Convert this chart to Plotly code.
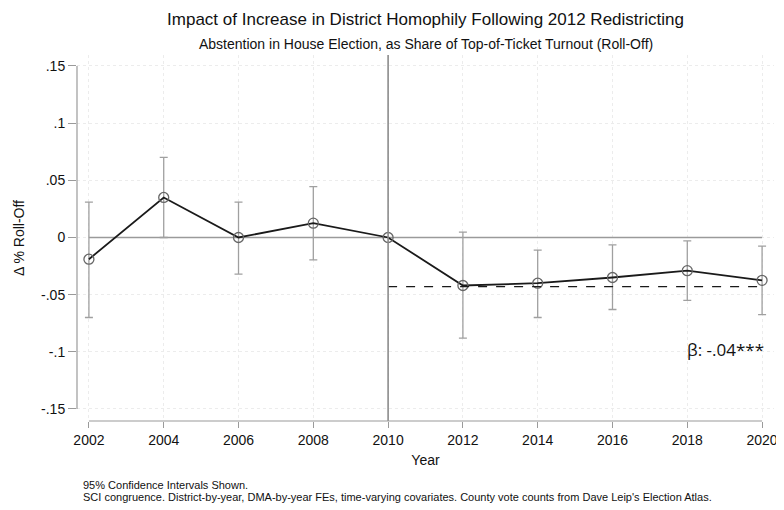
import plotly.graph_objects as go

# DATA
years = [2002, 2004, 2006, 2008, 2010, 2012, 2014, 2016, 2018, 2020]
coef = [-0.019, 0.035, 0.0, 0.0125, 0.0, -0.042, -0.040, -0.035, -0.029, -0.0375]
ci_low = [-0.070, 0.0, -0.032, -0.0195, None, -0.088, -0.070, -0.063, -0.055, -0.0675]
ci_high = [0.031, 0.070, 0.031, 0.0445, None, 0.0047, -0.011, -0.0064, -0.003, -0.0076]
post_beta = -0.043
y_ticks = [0.15, 0.1, 0.05, 0, -0.05, -0.1, -0.15]
y_tick_text = [".15", ".1", ".05", "0", "-.05", "-.1", "-.15"]

FONT = "Liberation Sans"
GRID = "#ececec"
AXIS = "#9a9a9a"

# page body has an 8px margin, so the figure is drawn 8px smaller
W, H = 776, 502
M_L, M_R, M_T, M_B = 69, 6, 47, 89
PLOT_W = W - M_L - M_R
PLOT_H = H - M_T - M_B
PX_PER_YEAR = 37.65

# ERROR BARS (skip the reference year)
eb_x, eb_y, eb_up, eb_dn = [], [], [], []
for yr, c, lo, hi in zip(years, coef, ci_low, ci_high):
    if lo is None:
        continue
    eb_x.append(yr)
    eb_y.append(c)
    eb_up.append(hi - c)
    eb_dn.append(c - lo)

fig = go.Figure()

fig.add_trace(go.Scatter(
    x=eb_x, y=eb_y, mode="markers",
    marker=dict(size=1, color="rgba(0,0,0,0)"),
    error_y=dict(type="data", symmetric=False, array=eb_up, arrayminus=eb_dn,
                 color="#a0a0a0", thickness=1.3, width=4),
    showlegend=False, hoverinfo="skip"
))

fig.add_trace(go.Scatter(
    x=years, y=coef, mode="lines+markers",
    line=dict(color="#1a1a1a", width=1.8),
    marker=dict(symbol="circle-open", size=10, color="#666666", line=dict(width=1.3)),
    showlegend=False
))

# post-period average (dashed)
fig.add_trace(go.Scatter(
    x=[2010, 2020], y=[post_beta, post_beta], mode="lines",
    line=dict(color="#1a1a1a", width=1.3, dash="dash"),
    showlegend=False, hoverinfo="skip"
))

shapes = [
    # zero line
    dict(type="line", xref="x", yref="y", x0=2002, x1=2020, y0=0, y1=0,
         line=dict(color=AXIS, width=1.5), layer="between"),
    # 2010 vertical line
    dict(type="line", xref="x", yref="paper", x0=2010, x1=2010, y0=0, y1=1,
         line=dict(color="#8c8c8c", width=1.6), layer="above"),
    # y axis line
    dict(type="line", xref="paper", yref="y", x0=0, x1=0, y0=-0.15, y1=0.15,
         line=dict(color=AXIS, width=1.2)),
    # x axis line
    dict(type="line", xref="x", yref="paper", x0=2002, x1=2020, y0=0, y1=0,
         line=dict(color=AXIS, width=1.2)),
]

note_x = (73 - M_L) / PLOT_W

fig.update_layout(
    width=W, height=H,
    margin=dict(l=M_L, r=M_R, t=M_T, b=M_B),
    plot_bgcolor="white", paper_bgcolor="white",
    font=dict(family=FONT, color="#111111", size=14),
    shapes=shapes,
    title=dict(text="Impact of Increase in District Homophily Following 2012 Redistricting",
               x=0.5, xref="paper", xanchor="center",
               y=1 - 11 / H, yref="container", yanchor="middle",
               font=dict(size=17, family=FONT, color="#111111")),
    annotations=[
        dict(text="Abstention in House Election, as Share of Top-of-Ticket Turnout (Roll-Off)",
             xref="paper", yref="paper", x=0.5, y=1 + 11 / PLOT_H, xanchor="center",
             yanchor="middle", showarrow=False, font=dict(size=14)),
        dict(text="β: -.04***", xref="x", yref="y", x=2020.1, y=-0.098,
             xanchor="right", yanchor="middle", showarrow=False,
             font=dict(size=17, family="Open Sans")),
        dict(text="95% Confidence Intervals Shown.",
             xref="paper", yref="paper", x=note_x, y=-(477 - 413) / PLOT_H,
             xanchor="left", yanchor="middle", align="left", showarrow=False,
             font=dict(size=11)),
        dict(text="SCI congruence. District-by-year, DMA-by-year FEs, "
                  "time-varying covariates. County vote counts from Dave Leip's Election Atlas.",
             xref="paper", yref="paper", x=note_x, y=-(489 - 413) / PLOT_H,
             xanchor="left", yanchor="middle", align="left", showarrow=False,
             font=dict(size=11)),
    ],
    xaxis=dict(
        range=[2002 - 12 / PX_PER_YEAR, 2020 + 12 / PX_PER_YEAR],
        tickvals=years, ticktext=[str(y) for y in years],
        showgrid=True, gridcolor=GRID, gridwidth=1, griddash="dot",
        zeroline=False, showline=False,
        ticks="outside", ticklen=6, tickcolor=AXIS,
        title=dict(text="Year", font=dict(size=14), standoff=8),
        tickfont=dict(size=14),
    ),
    yaxis=dict(
        range=[-0.1605, 0.1596],
        tickvals=y_ticks, ticktext=y_tick_text,
        showgrid=True, gridcolor=GRID, gridwidth=1, griddash="dot",
        zeroline=False, showline=False,
        ticks="outside", ticklen=8, tickcolor=AXIS,
        title=dict(text="Δ % Roll-Off", font=dict(size=14), standoff=13),
        tickfont=dict(size=14),
    ),
)

fig.write_html("out.html")
